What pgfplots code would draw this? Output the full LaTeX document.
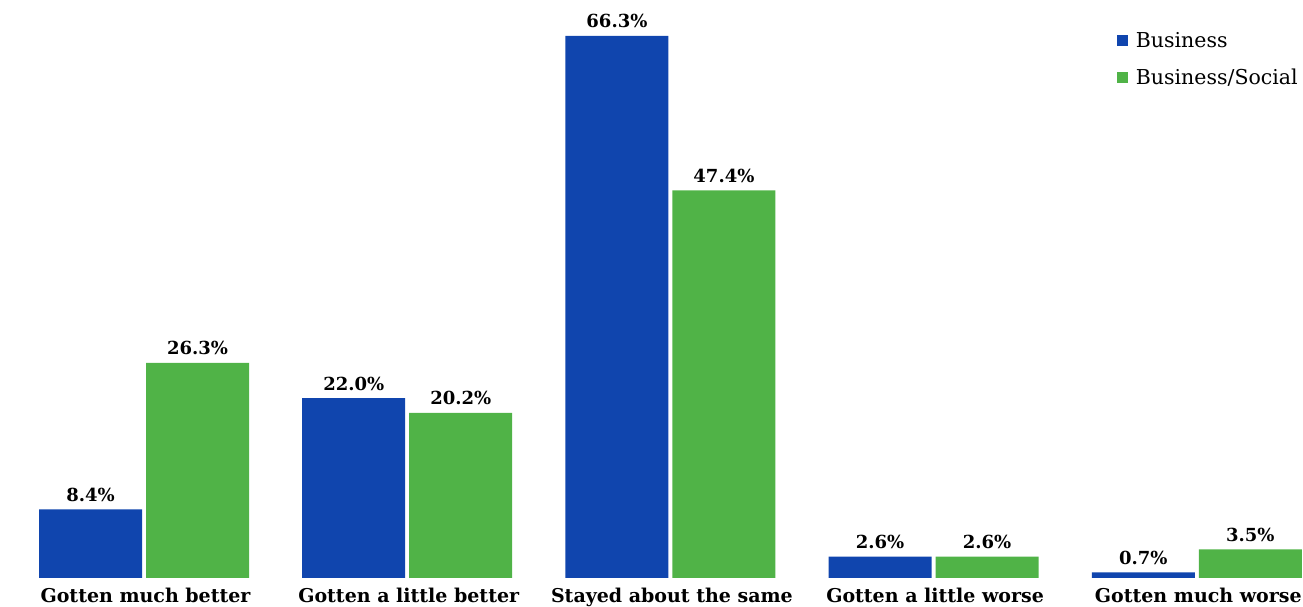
\documentclass[border=0pt]{standalone}
\usepackage{pgfplots}
\pgfplotsset{compat=1.18}
\usepackage{fontspec}
\setmainfont{DejaVu Serif}
\definecolor{bizblue}{HTML}{1045AE}
\definecolor{socgreen}{HTML}{50B347}
\begin{document}
\begin{tikzpicture}
\begin{axis}[
  scale only axis,
  width=1303pt, height=578pt,
  xmin=-0.553, xmax=4.398,
  ymin=0, ymax=70.7,
  axis line style={draw=none},
  ytick=\empty,
  xtick={0,1,2,3,4},
  xticklabels={Gotten much better,Gotten a little better,Stayed about the same,Gotten a little worse,Gotten much worse},
  major tick length=0pt,
  xticklabel style={font=\bfseries\fontsize{19}{19}\selectfont, anchor=base, yshift=-25pt},
  /pgf/number format/assume math mode=true,
  ybar, bar width=103pt,
  nodes near coords={\pgfmathprintnumber[fixed,fixed zerofill,precision=1]{\pgfplotspointmeta}\%},
  every node near coord/.append style={font=\bfseries\fontsize{18}{18}\selectfont, anchor=base, yshift=8pt, black},
  legend style={draw=none, fill=none, at={(axis description cs:0.857,0.948)}, anchor=north west,
    font=\fontsize{20.5}{20.5}\selectfont, row sep=16pt, inner sep=0pt, column sep=6pt},
  legend image code/.code={\fill[#1] (0pt,-5.5pt) rectangle (11pt,5.5pt);},
  legend cell align=left,
]
\addplot[fill=bizblue, draw=none, bar shift=-55pt] coordinates {(0,8.4) (1,22.0) (2,66.3) (3,2.6) (4,0.7)};
\addplot[fill=socgreen, draw=none, bar shift=52pt] coordinates {(0,26.3) (1,20.2) (2,47.4) (3,2.6) (4,3.5)};
\legend{Business, Business/Social}
\end{axis}
\pgfresetboundingbox
\path (0,-29pt) rectangle (1303pt,578pt);
\end{tikzpicture}
\end{document}
